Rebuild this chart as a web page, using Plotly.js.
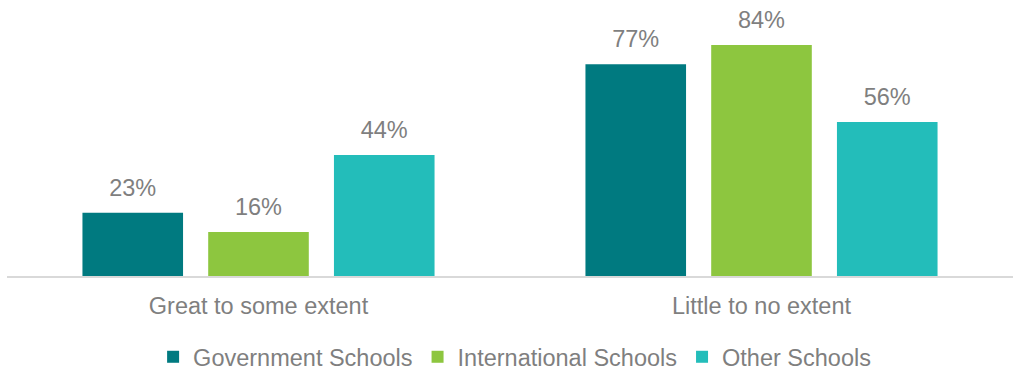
<!DOCTYPE html>
<html>
<head>
<meta charset="utf-8">
<script src="https://cdn.plot.ly/plotly-3.0.1.min.js"></script>
<style>html,body{margin:0;padding:0;background:#fff;}#chart{width:1013px;height:370px;}</style>
</head>
<body>
<div id="chart"></div>
<script>
const categories = ["Great to some extent", "Little to no extent"];
const seriesNames = ["Government Schools", "International Schools", "Other Schools"];
const governmentValues = [23, 77];
const internationalValues = [16, 84];
const otherValues = [44, 56];
const seriesValues = [governmentValues, internationalValues, otherValues];
const seriesColors = ["#007A80", "#8DC63F", "#23BDBA"];

const FONT = "'Liberation Sans', Arial, sans-serif";
const GREY = "#7F7F7F";
const FS = 23.5;

const traces = [];
seriesValues.forEach((vals, i) => {
  traces.push({
    type: "bar",
    name: seriesNames[i],
    x: categories,
    y: vals,
    offsetgroup: String(i),
    marker: {color: seriesColors[i], line: {width: 0}},
    hoverinfo: "skip"
  });
});
seriesValues.forEach((vals, i) => {
  traces.push({
    type: "scatter",
    mode: "markers+text",
    x: categories,
    y: vals,
    offsetgroup: String(i),
    text: vals.map(v => v + "%"),
    textposition: "top center",
    textfont: {family: FONT, size: FS, color: GREY},
    marker: {size: 16, opacity: 0, color: seriesColors[i]},
    showlegend: false,
    hoverinfo: "skip",
    cliponaxis: false
  });
});

const layout = {
  width: 1013,
  height: 370,
  margin: {l: 7, r: 0, t: 1, b: 94},
  paper_bgcolor: "#fff",
  plot_bgcolor: "#fff",
  barmode: "group",
  scattermode: "group",
  bargap: 0.25,
  scattergap: 0.25,
  bargroupgap: 0.2,
  font: {family: FONT, size: FS, color: GREY},
  showlegend: true,
  legend: {
    orientation: "h",
    x: 0.508, xanchor: "center", xref: "container",
    y: 13/370, yanchor: "middle", yref: "container",
    font: {family: FONT, size: FS, color: GREY},
    itemclick: false
  },
  xaxis: {
    type: "category",
    showline: true,
    linecolor: "#D9D9D9",
    linewidth: 2,
    ticks: "",
    showgrid: false,
    zeroline: false,
    tickfont: {family: FONT, size: FS, color: GREY},
    ticklabelstandoff: 8
  },
  yaxis: {
    range: [0, 100],
    visible: false,
    showgrid: false,
    zeroline: false
  }
};

Plotly.newPlot("chart", traces, layout, {displayModeBar: false, staticPlot: true});
</script>
</body>
</html>
